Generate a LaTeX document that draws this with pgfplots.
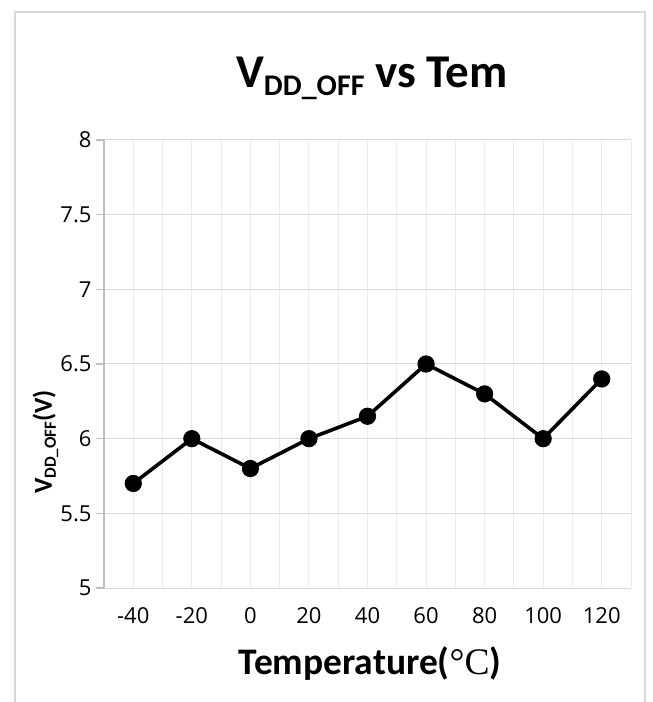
\documentclass[border=0pt]{standalone}
\usepackage{fontspec}
\usepackage{pgfplots}
\pgfplotsset{compat=1.18}
\setmainfont{Carlito}
\newfontfamily\opensans{Open Sans}
\newfontfamily\serifC{Liberation Serif}
\definecolor{gridgray}{HTML}{D9D9D9}
\definecolor{minorgray}{HTML}{EBEBEB}
\definecolor{axisgray}{HTML}{BFBFBF}
\newcommand{\tf}{\opensans\fontsize{22}{22}\selectfont}
\begin{document}
\begin{tikzpicture}
  \useasboundingbox (-104pt,-114pt) rectangle (549pt,588pt);
  \begin{axis}[
      at={(0,0)}, anchor=south west,
      scale only axis,
      width=527pt, height=448pt,
      xmin=-50, xmax=130,
      ymin=5, ymax=8,
      xtick={-40,-20,...,120},
      xticklabels={{\tf -40},{\tf -20},{\tf 0},{\tf 20},{\tf 40},{\tf 60},{\tf 80},{\tf 100},{\tf 120}},
      minor xtick={-50,-30,...,130},
      ytick={5,5.5,...,8},
      yticklabels={{\tf 5},{\tf 5.5},{\tf 6},{\tf 6.5},{\tf 7},{\tf 7.5},{\tf 8}},
      axis lines=left,
      axis line style={-},
      x axis line style={draw=gridgray, line width=1pt},
      y axis line style={draw=axisgray, line width=1.2pt},
      xtick style={draw=none},
      minor tick length=0pt,
      ytick style={draw=axisgray, line width=1.2pt},
      major tick length=8pt,
      tick align=outside,
      xmajorgrids, xminorgrids, ymajorgrids,
      major grid style={draw=gridgray, line width=1pt},
      minor grid style={draw=minorgray, line width=1pt},
      x grid style={draw=minorgray, line width=1pt},
      /pgf/number format/assume math mode=true,
      yticklabel style={xshift=-1pt},
      xticklabel style={yshift=-8pt},
      clip=false,
    ]
    % V_DD_OFF vs temperature
    \addplot [black, line width=3.6pt, mark=*, mark size=6.8pt] coordinates {
      (-40, 5.7)
      (-20, 6.0)
      (0, 5.8)
      (20, 6.0)
      (40, 6.15)
      (60, 6.5)
      (80, 6.3)
      (100, 6.0)
      (120, 6.4)
    };
  \end{axis}
  % outer chart frame
  \draw [gridgray, line width=1.5pt] (-89pt,-120pt) -- (-89pt,576pt) -- (541pt,576pt) -- (541pt,-120pt);
  % title
  \node [anchor=base] at (268pt,500pt) {\bfseries\fontsize{47}{47}\selectfont V\raisebox{-8pt}{\fontsize{30}{30}\selectfont DD\_OFF} vs Tem};
  % axis titles
  \node [anchor=base] at (266pt,-86pt) {\bfseries\fontsize{37.5}{37.5}\selectfont Temperature({\serifC\mdseries °C})};
  \node [anchor=base, rotate=90] at (-52pt,146pt) {\bfseries\fontsize{26}{26}\selectfont V\raisebox{-4pt}{\fontsize{17}{17}\selectfont DD\_OFF}(V)};
\end{tikzpicture}
\end{document}
